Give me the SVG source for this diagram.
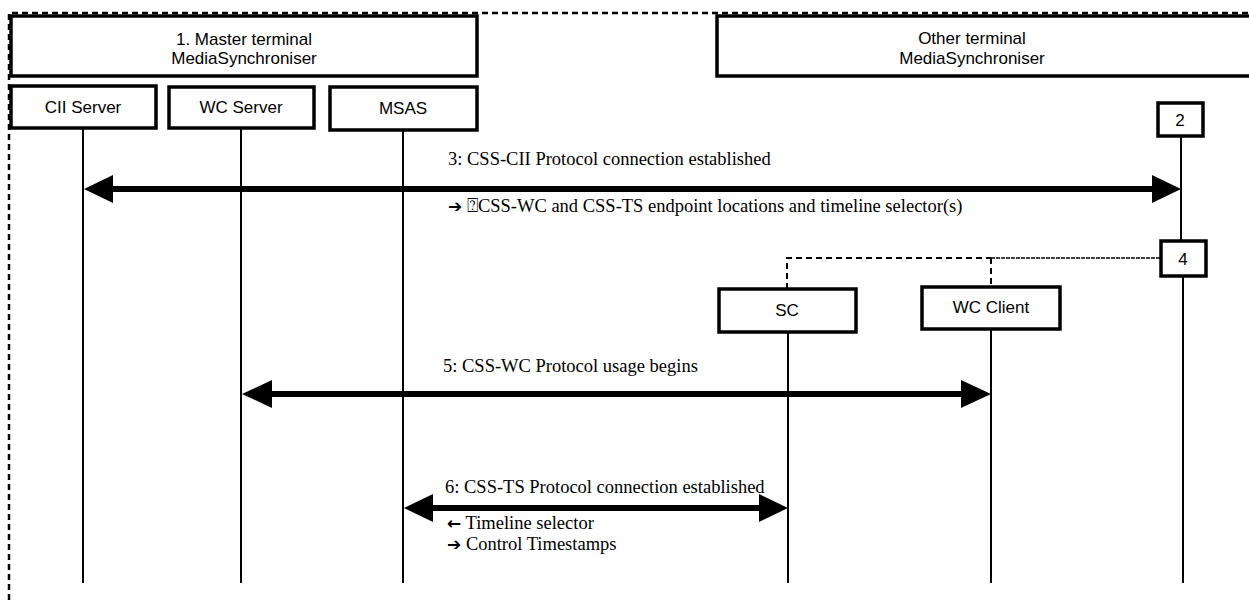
<svg xmlns="http://www.w3.org/2000/svg" width="1249" height="600" viewBox="0 0 1249 600">
<style>
.box{fill:#fff;stroke:#000;stroke-width:3.5}
.lbl{font-family:"Liberation Sans",Arial,sans-serif;font-size:17px;text-anchor:middle;fill:#000}
.msg{font-family:"Liberation Serif","Times New Roman",serif;font-size:18.5px;fill:#000}
.arw{font-family:"DejaVu Sans",sans-serif;font-weight:bold;font-size:17px}
.life{stroke:#000;stroke-width:2;fill:none}
.msgline{stroke:#000;stroke-width:6;fill:none}
.dash{stroke:#000;stroke-width:2;stroke-dasharray:6 4;fill:none}
</style>
<rect width="1249" height="600" fill="#fff"/>
<g id="frame">
<path d="M9,600 L9,13 L1249,13" stroke="#000" stroke-width="2.5" stroke-dasharray="6 4" fill="none"/>
</g>
<g id="lifelines">
<line class="life" x1="83" y1="128" x2="83" y2="583"/>
<line class="life" x1="241" y1="128" x2="241" y2="583"/>
<line class="life" x1="403" y1="130" x2="403" y2="583"/>
<line class="life" x1="1181" y1="136" x2="1181" y2="240"/>
<line class="life" x1="1183" y1="276" x2="1183" y2="583"/>
<line class="life" x1="788" y1="332" x2="788" y2="583"/>
<line class="life" x1="991" y1="329" x2="991" y2="583"/>
</g>
<g id="master">
<rect class="box" x="11" y="16" width="466" height="60"/>
<text class="lbl" x="244" y="45">1. Master terminal</text>
<text class="lbl" x="244" y="64">MediaSynchroniser</text>
</g>
<g id="other">
<rect class="box" x="717" y="16" width="560" height="60"/>
<text class="lbl" x="972" y="44">Other terminal</text>
<text class="lbl" x="972" y="64">MediaSynchroniser</text>
</g>
<g id="cii-server">
<rect class="box" x="11" y="86" width="145" height="42"/>
<text class="lbl" x="83" y="113">CII Server</text>
</g>
<g id="wc-server">
<rect class="box" x="169" y="87" width="145" height="41"/>
<text class="lbl" x="241" y="113">WC Server</text>
</g>
<g id="msas">
<rect class="box" x="330" y="87" width="147" height="43"/>
<text class="lbl" x="403" y="114">MSAS</text>
</g>
<g id="step2">
<rect class="box" x="1158" y="103" width="45" height="33"/>
<text class="lbl" x="1180" y="126">2</text>
</g>
<g id="step4">
<rect class="box" x="1161" y="241" width="45" height="35"/>
<text class="lbl" x="1183" y="265">4</text>
</g>
<g id="sc">
<rect class="box" x="719" y="289" width="137" height="43"/>
<text class="lbl" x="787" y="316">SC</text>
</g>
<g id="wc-client">
<rect class="box" x="922" y="287" width="138" height="42"/>
<text class="lbl" x="991" y="313">WC Client</text>
</g>
<g id="connectors">
<path class="dash" d="M787,289 L787,258 L991,258"/>
<path class="dash" d="M991,258 L991,287"/>
<line x1="991" y1="258" x2="1161" y2="258" stroke="#000" stroke-width="1.5" stroke-dasharray="4 1"/>
<line class="msgline" x1="112" y1="189" x2="1152" y2="189"/>
<path d="M84,189 L113,175 L113,203 Z"/>
<path d="M1181,189 L1152,175 L1152,203 Z"/>
<line class="msgline" x1="270" y1="394" x2="962" y2="394"/>
<path d="M242,394 L272,380 L272,408 Z"/>
<path d="M991,394 L961,380 L961,408 Z"/>
<line class="msgline" x1="430" y1="508" x2="760" y2="508"/>
<path d="M404,508 L433,494 L433,522 Z"/>
<path d="M788,508 L759,494 L759,522 Z"/>
</g>
<g id="labels">
<text class="msg" x="448" y="165">3: CSS-CII Protocol connection established</text>
<text class="msg" x="448" y="212"><tspan class="arw">➔</tspan> ⍰CSS-WC and CSS-TS endpoint locations and timeline selector(s)</text>
<text class="msg" x="443" y="372">5: CSS-WC Protocol usage begins</text>
<text class="msg" x="445" y="493">6: CSS-TS Protocol connection established</text>
<text class="msg" x="447" y="529"><tspan class="arw">←</tspan> Timeline selector</text>
<text class="msg" x="447" y="550"><tspan class="arw">➔</tspan> Control Timestamps</text>
</g>
</svg>
